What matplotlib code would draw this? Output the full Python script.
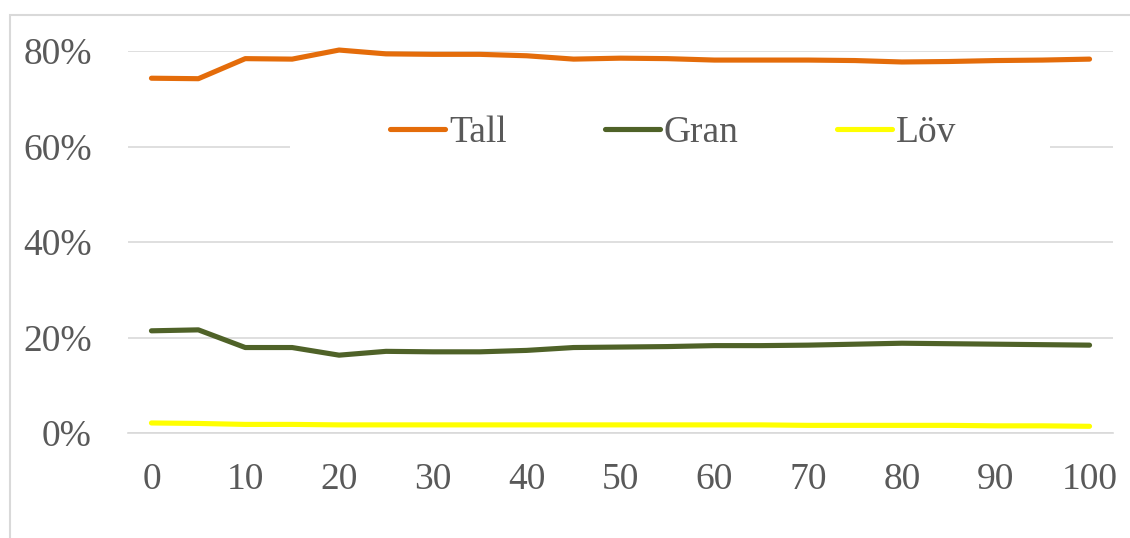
import matplotlib
matplotlib.use("Agg")
import matplotlib.pyplot as plt
from matplotlib.patches import Rectangle
from matplotlib.ticker import FuncFormatter

# Andel per trädslag över tid
years = list(range(0, 101, 5))
tall = [74.3, 74.2, 78.4, 78.3, 80.2, 79.4, 79.3, 79.3, 79.0, 78.3, 78.5,
        78.4, 78.1, 78.1, 78.1, 78.0, 77.7, 77.8, 78.0, 78.1, 78.3]
gran = [21.4, 21.6, 17.9, 17.9, 16.3, 17.1, 17.0, 17.0, 17.3, 17.9, 18.0,
        18.1, 18.3, 18.3, 18.4, 18.6, 18.8, 18.7, 18.6, 18.5, 18.4]
lov = [2.1, 2.0, 1.8, 1.8, 1.7, 1.7, 1.7, 1.7, 1.7, 1.7, 1.7,
       1.7, 1.7, 1.7, 1.6, 1.6, 1.6, 1.6, 1.5, 1.5, 1.4]
series = [("Tall", tall, "#e46c0a"), ("Gran", gran, "#4f6228"), ("Löv", lov, "#ffff00")]
y_ticks = [0, 20, 40, 60, 80]

text_color = "#595959"
grid_color = "#d9d9d9"
plt.rcParams["font.family"] = ["Liberation Serif", "DejaVu Serif"]

W, H = 1130, 538
fig = plt.figure(figsize=(W / 100, H / 100), dpi=100)
ax = fig.add_axes([128 / W, (H - 433) / H, (1113 - 128) / W, (433 - 51) / H])

# light chart border
fig.patches.append(Rectangle((10 / W, -0.1), 1.2, (H - 15) / H + 0.1,
                             transform=fig.transFigure, fill=False,
                             edgecolor=grid_color, linewidth=1.5))

idx = list(range(len(years)))
lines = []
for name, vals, col in series:
    ln, = ax.plot(idx, vals, color=col, linewidth=3.7, solid_capstyle="round",
                  solid_joinstyle="round", label=name, clip_on=False, zorder=3)
    lines.append(ln)

ax.set_xlim(-0.5, len(years) - 0.5)
ax.set_ylim(0, 80)
ax.set_xticks(idx[::2])
ax.set_xticklabels([str(y) for y in years[::2]])
ax.set_yticks(y_ticks)
ax.yaxis.set_major_formatter(FuncFormatter(lambda v, p: f"{v:.0f}%"))
ax.grid(axis="y", color=grid_color, linewidth=1.2, zorder=0)
ax.set_axisbelow(True)
for s in ["top", "right", "left"]:
    ax.spines[s].set_visible(False)
ax.spines["bottom"].set_color(grid_color)
ax.spines["bottom"].set_linewidth(1.2)
ax.tick_params(axis="both", length=0, labelsize=27, labelcolor=text_color)
ax.tick_params(axis="x", pad=21)
ax.tick_params(axis="y", pad=26)

# white area behind the legend, over the 60% gridline
ax.add_patch(Rectangle((290 / W, (H - 160) / H), (1050 - 290) / W, 55 / H,
                       transform=fig.transFigure, facecolor="white",
                       edgecolor="none", zorder=1))

leg = ax.legend(handles=lines, loc="center", bbox_to_anchor=(673 / W, (H - 133) / H),
                bbox_transform=fig.transFigure, ncol=3, frameon=False,
                fontsize=27, handlelength=1.47, handletextpad=0.1,
                columnspacing=2.62, labelcolor=text_color)

fig.savefig("out.png", dpi=100, facecolor="white")
